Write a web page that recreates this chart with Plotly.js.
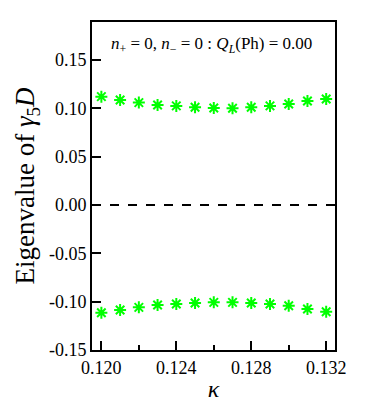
<!DOCTYPE html>
<html>
<head>
<meta charset="utf-8">
<script src="https://cdn.plot.ly/plotly-3.0.1.min.js"></script>
<style>html,body{margin:0;padding:0;background:#fff;}#chart{width:382px;height:414px;}</style>
</head>
<body>
<div id="chart"></div>
<script>
const kappa = [0.120, 0.121, 0.122, 0.123, 0.124, 0.125, 0.126, 0.127, 0.128, 0.129, 0.130, 0.131, 0.132];
const upperEig = [0.1121, 0.1087, 0.1059, 0.1035, 0.1025, 0.1011, 0.1004, 0.1001, 0.1011, 0.1025, 0.1045, 0.1076, 0.1097];
const lowerEig = [-0.1115, -0.1087, -0.1059, -0.1035, -0.1025, -0.1013, -0.1007, -0.1007, -0.1013, -0.1025, -0.1042, -0.1076, -0.1104];
const xTicks = [0.120, 0.124, 0.128, 0.132];
const yTicks = [-0.15, -0.10, -0.05, 0.00, 0.05, 0.10, 0.15];

const green = '#00ff00';
const mk = {symbol: 'asterisk-open', size: 10, color: green, line: {color: green, width: 2}};
const traces = [
  {x: kappa, y: upperEig, mode: 'markers', type: 'scatter', marker: mk, showlegend: false},
  {x: kappa, y: lowerEig, mode: 'markers', type: 'scatter', marker: mk, showlegend: false}
];
const font = '"Liberation Serif", "Times New Roman", serif';
const layout = {
  width: 382, height: 414,
  margin: {l: 92, r: 47, t: 22, b: 64},
  paper_bgcolor: '#fff', plot_bgcolor: '#fff',
  font: {family: font, color: '#000', size: 18},
  xaxis: {
    range: [0.1195, 0.13247],
    tickvals: xTicks, ticktext: xTicks.map(v => v.toFixed(3)),
    ticks: 'inside', ticklen: 9, tickwidth: 2, tickcolor: '#000',
    minor: {tickvals: [0.122, 0.126, 0.130], ticks: 'inside', ticklen: 5, tickwidth: 2, tickcolor: '#000'},
    showline: true, linewidth: 2, linecolor: '#000', mirror: true,
    showgrid: false, zeroline: false,
    tickfont: {family: font, size: 18, color: '#000'},
    title: {text: '<i>κ</i>', font: {family: font, size: 24, color: '#000'}, standoff: 4}
  },
  yaxis: {
    range: [-0.15, 0.1893],
    tickvals: yTicks, ticktext: yTicks.map(v => v.toFixed(2)),
    ticks: 'inside', ticklen: 9, tickwidth: 2, tickcolor: '#000',
    showline: true, linewidth: 2, linecolor: '#000', mirror: true,
    showgrid: false, zeroline: false,
    tickfont: {family: font, size: 18, color: '#000'},
    title: {text: 'Eigenvalue of <i>γ</i><sub>5</sub><i>D</i>', font: {family: font, size: 27, color: '#000'}, standoff: 6}
  },
  shapes: [{type: 'line', xref: 'paper', x0: 0, x1: 1, yref: 'y', y0: 0, y1: 0,
    line: {color: '#000', width: 2, dash: 'dash'}}],
  annotations: [{
    xref: 'paper', yref: 'paper', x: 0.49, y: 0.93, xanchor: 'center', yanchor: 'middle',
    showarrow: false,
    text: '<i>n</i><sub>+</sub> = 0, <i>n</i><sub>−</sub> = 0 : <i>Q</i><sub><i>L</i></sub>(Ph) = 0.00',
    font: {family: font, size: 17, color: '#000'}
  }]
};
Plotly.newPlot('chart', traces, layout, {displayModeBar: false, staticPlot: true});
</script>
</body>
</html>
